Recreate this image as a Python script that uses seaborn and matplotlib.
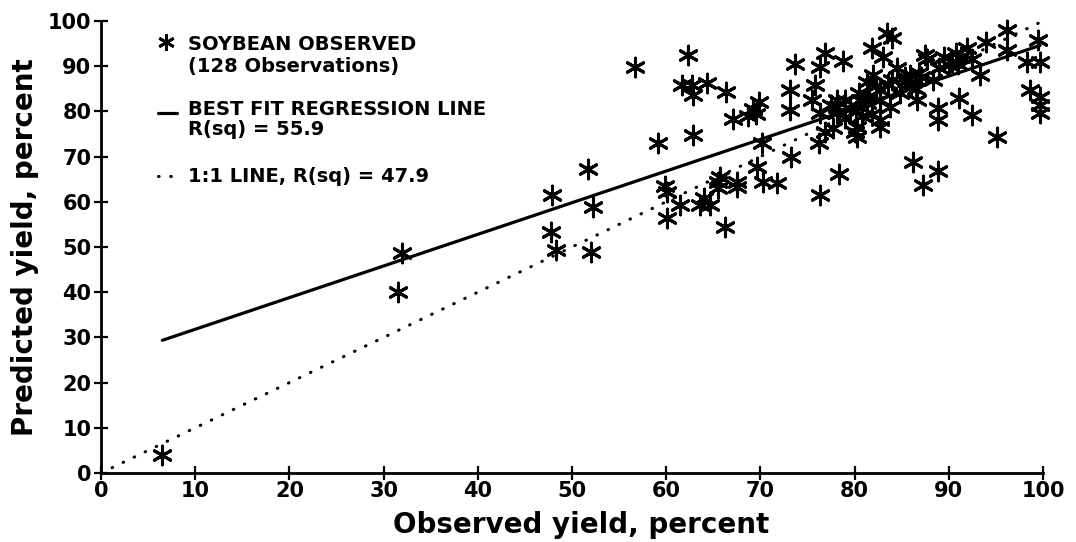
import matplotlib
matplotlib.use("Agg")
import matplotlib.pyplot as plt
from matplotlib.lines import Line2D
import numpy as np
import pandas as pd
import seaborn as sns

# ---- data ----
observed = [
    6.5, 31.5, 32.0, 47.8, 47.9, 48.3, 51.7, 52.0, 52.2, 56.7,
    59.1, 59.9, 60.1, 60.1, 61.5, 61.7, 62.3, 62.7, 62.8, 62.8,
    63.6, 64.0, 64.6, 64.3, 65.5, 65.7, 65.5, 66.3, 66.2, 67.1,
    67.5, 67.5, 68.7, 69.2, 69.8, 69.5, 69.6, 70.2, 70.3, 71.8,
    73.1, 73.1, 73.2, 73.7, 75.5, 75.8, 76.2, 76.3, 76.3, 76.3,
    76.9, 76.9, 77.7, 78.1, 78.1, 78.1, 78.3, 78.8, 80.3, 80.3,
    80.6, 81.3, 81.3, 81.8, 82.0, 82.7, 82.7, 82.7, 82.7, 83.0,
    83.4, 84.0, 83.8, 84.5, 84.8, 85.9, 85.9, 86.2, 86.6, 87.3,
    87.5, 87.7, 88.3, 88.9, 88.9, 88.9, 90.3, 90.8, 91.3, 91.9,
    91.1, 92.5, 93.3, 94.0, 95.1, 96.2, 96.2, 98.3, 98.6, 99.5,
    99.7, 99.7, 99.7, 99.7, 89.5, 90.0, 92.5, 85.3, 86.8, 86.0,
    80.5, 81.5, 82.3, 79.5, 80.8, 77.5, 79.0, 80.0, 85.5, 87.0,
    86.5, 84.0, 89.0, 91.0, 83.5, 80.2, 81.8, 79.0,
]
predicted = [
    4.0, 40.0, 48.7, 53.3, 61.5, 49.3, 67.2, 48.9, 58.8, 89.8,
    73.0, 63.5, 62.2, 56.4, 59.3, 85.8, 92.5, 85.8, 83.6, 74.8,
    59.3, 60.8, 59.3, 86.3, 64.4, 65.5, 63.0, 84.3, 54.4, 78.3,
    64.4, 63.3, 79.0, 80.5, 82.0, 79.5, 67.7, 73.0, 64.4, 64.2,
    84.7, 80.3, 69.9, 90.5, 82.5, 85.8, 73.0, 89.8, 79.6, 61.5,
    92.9, 75.4, 76.3, 82.5, 81.0, 79.6, 66.2, 91.2, 76.5, 74.3,
    82.5, 81.9, 86.5, 94.0, 88.0, 84.7, 82.5, 78.0, 76.5, 92.0,
    97.3, 96.2, 81.0, 89.6, 84.0, 88.0, 86.3, 68.8, 82.5, 63.7,
    92.5, 91.5, 87.0, 80.8, 78.1, 66.8, 91.0, 93.0, 92.0, 94.0,
    83.0, 79.2, 88.0, 95.4, 74.3, 98.0, 93.6, 91.0, 84.7, 95.8,
    91.0, 83.2, 81.5, 79.7, 92.0, 90.3, 91.5, 87.5, 88.5, 85.5,
    84.0, 83.5, 85.7, 80.5, 79.0, 81.5, 82.5, 75.5, 86.8, 87.5,
    85.0, 87.0, 89.5, 90.5, 86.0, 80.0, 79.5, 78.5,
]
reg_intercept = 24.8
reg_slope = 0.70
one_to_one = [0, 100]

x_ticks = [0, 10, 20, 30, 40, 50, 60, 70, 80, 90, 100]
y_ticks = [0, 10, 20, 30, 40, 50, 60, 70, 80, 90, 100]

legend_lines = [
    "SOYBEAN OBSERVED",
    "(128 Observations)",
    "BEST FIT REGRESSION LINE",
    "R(sq) = 55.9",
    "1:1 LINE, R(sq) = 47.9",
]

# ---- plotting ----
sns.set_theme(style="white")
plt.rcParams["font.family"] = ["DejaVu Sans"]
plt.rcParams["font.weight"] = "bold"
plt.rcParams["text.color"] = "black"
plt.rcParams["axes.labelcolor"] = "black"

df = pd.DataFrame({"obs": observed, "pred": predicted})

fig = plt.figure(figsize=(10.76, 5.42), dpi=100)
ax = fig.add_axes([0.0939, 0.1273, 0.8754, 0.8340])

star = (6, 2, 0)
dots = (0, (0.2, 3.8))

# 1:1 line
sns.lineplot(x=one_to_one, y=one_to_one, ax=ax, color="black",
             linewidth=2.2, linestyle=dots, dash_capstyle="round",
             clip_on=False)

# regression line over the observed range
xr = np.array([min(observed), max(observed)])
sns.lineplot(x=xr, y=reg_intercept + reg_slope * xr, ax=ax, color="black",
             linewidth=2.3)

# observations
sns.scatterplot(data=df, x="obs", y="pred", ax=ax, marker=star, s=180,
                color="black", edgecolor="black", linewidth=2.2,
                clip_on=False, zorder=3)

ax.set_xlim(0, 100)
ax.set_ylim(0, 100)
ax.set_xticks(x_ticks)
ax.set_yticks(y_ticks)
ax.set_xticklabels([str(t) for t in x_ticks], fontsize=15, fontweight="bold")
ax.set_yticklabels([str(t) for t in y_ticks], fontsize=15, fontweight="bold")
ax.tick_params(axis="both", direction="inout", length=10, width=1.6,
               color="black", labelcolor="black", bottom=True, left=True)
ax.tick_params(axis="x", pad=1)
ax.tick_params(axis="y", pad=2)

for side in ["top", "right"]:
    ax.spines[side].set_visible(False)
for side in ["left", "bottom"]:
    ax.spines[side].set_color("black")
    ax.spines[side].set_linewidth(2.0)

ax.set_xlabel("Observed yield, percent", fontsize=20, fontweight="bold",
              labelpad=3, color="black")
ax.set_ylabel("Predicted yield, percent", fontsize=20, fontweight="bold",
              labelpad=6, color="black")
ax.xaxis.set_label_coords(0.51, -0.085)
ax.grid(False)

# ---- legend (drawn as text with symbols) ----
tx = 0.0924
base_y = [0.936, 0.887, 0.792, 0.748, 0.644]
for t, yb in zip(legend_lines, base_y):
    ax.text(tx, yb, t, transform=ax.transAxes, fontsize=14,
            fontweight="bold", va="baseline", ha="left", color="black")

ax.add_line(Line2D([0.069], [0.953], transform=ax.transAxes, marker=star,
                   markersize=12, markeredgewidth=2.0, color="black",
                   linestyle="none"))
ax.add_line(Line2D([0.060, 0.081], [0.796, 0.796], transform=ax.transAxes,
                   color="black", linewidth=2.3))
ax.add_line(Line2D([0.061, 0.076], [0.657, 0.657], transform=ax.transAxes,
                   color="black", linewidth=2.2, linestyle=dots,
                   dash_capstyle="round"))

fig.savefig("out.png", dpi=100, facecolor="white")
